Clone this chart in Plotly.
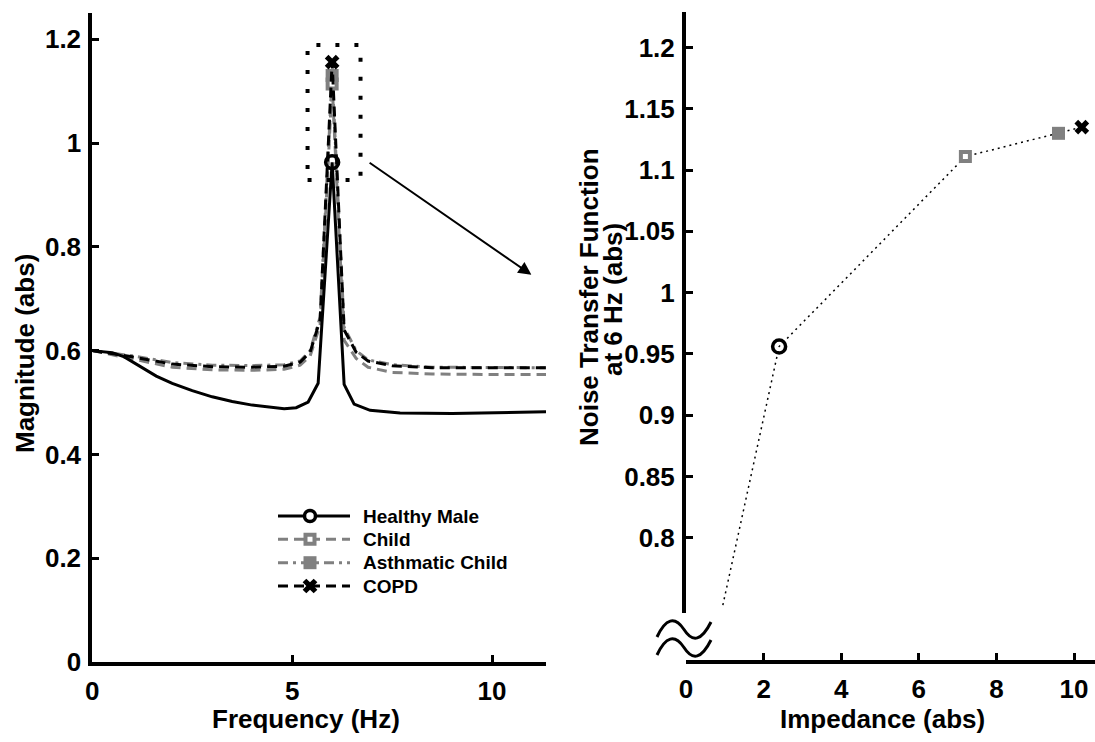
import plotly.graph_objects as go

W, H = 1095, 742

# ---------------- data: left panel (frequency response) ----------------
freq_healthy = [0, 0.5, 0.8, 1.2, 1.6, 2.0, 2.5, 3.0, 3.5, 4.0, 4.5, 4.8, 5.1, 5.4, 5.65, 6.0, 6.3, 6.55, 6.95, 7.7, 9.0, 10.5, 11.35]
mag_healthy = [0.600, 0.596, 0.588, 0.570, 0.551, 0.537, 0.523, 0.511, 0.502, 0.495, 0.490, 0.488, 0.490, 0.501, 0.537, 0.963, 0.535, 0.497, 0.485, 0.480, 0.479, 0.481, 0.482]

freq_other = [0, 1.0, 2.0, 3.0, 4.0, 4.8, 5.2, 5.45, 5.7, 6.0, 6.3, 6.6, 6.9, 7.5, 8.5, 10.0, 11.35]
mag_child = [0.600, 0.584, 0.568, 0.563, 0.562, 0.564, 0.572, 0.590, 0.650, 1.114, 0.620, 0.585, 0.568, 0.558, 0.555, 0.554, 0.554]
mag_asthmatic = [0.600, 0.590, 0.577, 0.572, 0.571, 0.573, 0.580, 0.600, 0.665, 1.130, 0.645, 0.600, 0.582, 0.573, 0.568, 0.567, 0.567]
mag_copd = [0.600, 0.588, 0.574, 0.569, 0.568, 0.570, 0.578, 0.597, 0.660, 1.156, 0.640, 0.597, 0.580, 0.571, 0.567, 0.567, 0.567]

# ---------------- data: right panel (NTF at 6 Hz vs impedance) ----------------
groups = ["Healthy Male", "Child", "Asthmatic Child", "COPD"]
impedance = [2.4, 7.2, 9.6, 10.2]
ntf_6hz = [0.956, 1.111, 1.130, 1.135]
trend_start = (0.95, 0.745)

x_ticks_left = [0, 5, 10]
y_ticks_left = [0, 0.2, 0.4, 0.6, 0.8, 1.0, 1.2]
y_ticklabels_left = ["0", "0.2", "0.4", "0.6", "0.8", "1", "1.2"]
x_ticks_right = [0, 2, 4, 6, 8, 10]
y_ticks_right = [0.8, 0.85, 0.9, 0.95, 1.0, 1.05, 1.1, 1.15, 1.2]
y_ticklabels_right = ["0.8", "0.85", "0.9", "0.95", "1", "1.05", "1.1", "1.15", "1.2"]

zoom_box_freq = [5.385, 6.71]
zoom_box_mag = [0.929, 1.189]
arrow_from = (6.9, 0.964)
arrow_to = (10.985, 0.746)

GRAY = "#808080"
FONT = "Liberation Sans"

# styles per group (order of `groups`)
line_styles = [
    dict(color="black", width=3),
    dict(color=GRAY, width=3, dash="10px,6px"),
    dict(color=GRAY, width=3, dash="10px,5px,3px,5px"),
    dict(color="black", width=3, dash="10px,6px"),
]
marker_styles = [
    dict(symbol="circle-open", color="black", size=13, line=dict(color="black", width=3.5)),
    dict(symbol="square", color="white", size=9, line=dict(color=GRAY, width=4)),
    dict(symbol="square", color=GRAY, size=13, line=dict(width=0)),
    dict(symbol="x", color="black", size=13, line=dict(width=0)),
]
legend_marker_styles = [
    dict(symbol="circle", color="white", size=11, line=dict(color="black", width=3.5)),
    marker_styles[1], marker_styles[2], marker_styles[3],
]

# legend layout (pixel positions of the hand-placed legend block)
LEG_LINE_X = (278, 350)
LEG_TEXT_X = 361
LEG_ROWS_Y = [516, 539.3, 562.7, 586]


def peak_only(values, ms):
    m = max(values)
    sizes = [ms["size"] if v == m else 0 for v in values]
    lw = ms["line"].get("width", 0)
    widths = [lw if v == m else 0 for v in values]
    return dict(symbol=ms["symbol"], color=ms["color"], size=sizes, opacity=1,
                line=dict(color=ms["line"].get("color", ms["color"]), width=widths))


fig = go.Figure()

left_series = [
    (freq_healthy, mag_healthy),
    (freq_other, mag_child),
    (freq_other, mag_asthmatic),
    (freq_other, mag_copd),
]
draw_order = [2, 1, 3, 0]  # asthmatic, child, copd, healthy on top
for i in draw_order:
    fx, fy = left_series[i]
    fig.add_trace(go.Scatter(
        x=fx, y=fy, mode="lines+markers", name=groups[i], showlegend=False,
        line=line_styles[i], marker=peak_only(fy, marker_styles[i]),
        xaxis="x", yaxis="y"))

# right panel: dotted trend line
fig.add_trace(go.Scatter(
    x=[trend_start[0]] + impedance, y=[trend_start[1]] + ntf_6hz,
    mode="lines", showlegend=False,
    line=dict(color="black", width=1.5, dash="2px,4px"),
    xaxis="x2", yaxis="y2"))

for g, xv, yv, ms in zip(groups, impedance, ntf_6hz, marker_styles):
    fig.add_trace(go.Scatter(x=[xv], y=[yv], mode="markers", name=g, showlegend=False,
                             marker=dict(ms, opacity=1), xaxis="x2", yaxis="y2",
                             cliponaxis=False))

# legend glyphs on a pixel overlay axis
for i, g in enumerate(groups):
    ry = LEG_ROWS_Y[i]
    mid = (LEG_LINE_X[0] + LEG_LINE_X[1]) / 2 - 4
    ms = legend_marker_styles[i]
    lw = ms["line"].get("width", 0)
    fig.add_trace(go.Scatter(
        x=[LEG_LINE_X[0], mid, LEG_LINE_X[1]], y=[ry, ry, ry], mode="lines+markers",
        showlegend=False, hoverinfo="skip", line=line_styles[i],
        marker=dict(symbol=ms["symbol"], color=ms["color"], size=[0, ms["size"], 0],
                    opacity=1,
                    line=dict(color=ms["line"].get("color", ms["color"]), width=[0, lw, 0])),
        xaxis="x3", yaxis="y3", cliponaxis=False))

axis_common = dict(
    showline=True, linewidth=4, linecolor="black", ticks="inside", ticklen=7,
    tickwidth=3, tickcolor="black", showgrid=False, zeroline=False,
    tickfont=dict(family=FONT, size=26, color="black", weight="bold"),
)

fig.update_layout(
    width=W, height=H,
    margin=dict(l=0, r=0, t=0, b=0, autoexpand=False),
    paper_bgcolor="white", plot_bgcolor="rgba(0,0,0,0)",
    showlegend=False,
    xaxis=dict(domain=[92.3 / W, 546 / W], range=[0, 11.35], anchor="y",
               tickvals=x_ticks_left, ticklabelstandoff=3, **axis_common),
    yaxis=dict(domain=[1 - 662 / H, 1 - 13.3 / H], range=[0, 1.25], anchor="x",
               tickvals=y_ticks_left, ticktext=y_ticklabels_left, ticklabelstandoff=2,
               **axis_common),
    xaxis2=dict(domain=[686 / W, 1.0], range=[0, 10.54], anchor="free",
                position=1 - 661.7 / H, tickvals=x_ticks_right, ticklabelstandoff=3,
                **axis_common),
    yaxis2=dict(domain=[1 - 612.7 / H, 1 - 12 / H], range=[0.7388, 1.229], anchor="x2",
                tickvals=y_ticks_right, ticktext=y_ticklabels_right, ticklabelstandoff=2,
                **axis_common),
    xaxis3=dict(domain=[0, 1], range=[0, W], visible=False, anchor="y3", fixedrange=True),
    yaxis3=dict(domain=[0, 1], range=[H, 0], visible=False, anchor="x3", fixedrange=True),
)

title_font = dict(family=FONT, size=26, color="black", weight="bold")
legend_font = dict(family=FONT, size=19, color="black", weight="bold")
annotations = [
    dict(text="Frequency (Hz)", x=306 / W, y=1 - 719 / H),
    dict(text="Magnitude (abs)", x=25 / W, y=1 - 354 / H, textangle=-90),
    dict(text="Impedance (abs)", x=882 / W, y=1 - 719 / H),
    dict(text="Noise Transfer Function", x=589 / W, y=1 - 297 / H, textangle=-90),
    dict(text="at 6 Hz (abs)", x=613 / W, y=1 - 300 / H, textangle=-90),
]
for a in annotations:
    a.update(xref="paper", yref="paper", showarrow=False, xanchor="center",
             yanchor="middle", font=title_font)
for i, g in enumerate(groups):
    annotations.append(dict(text=g, x=LEG_TEXT_X / W, y=1 - LEG_ROWS_Y[i] / H,
                            xref="paper", yref="paper", showarrow=False,
                            xanchor="left", yanchor="middle", font=legend_font))
annotations.append(dict(text="", x=arrow_to[0], y=arrow_to[1], ax=arrow_from[0],
                        ay=arrow_from[1], xref="x", yref="y", axref="x", ayref="y",
                        showarrow=True, arrowhead=2, arrowsize=1.3, arrowwidth=2,
                        arrowcolor="black"))
fig.update_layout(annotations=annotations)


def pp(px, py):
    return f"{px / W:.5f},{1 - py / H:.5f}"


def tilde(dy):
    return ("M" + pp(657, 637 + dy) + " Q" + pp(670, 609 + dy) + " " + pp(684, 629.5 + dy)
            + " Q" + pp(697, 650 + dy) + " " + pp(711, 622 + dy))


shapes = [
    dict(type="rect", xref="x", yref="y", x0=zoom_box_freq[0], x1=zoom_box_freq[1],
         y0=zoom_box_mag[0], y1=zoom_box_mag[1],
         line=dict(color="black", width=4, dash="4px,15px")),
    dict(type="path", xref="paper", yref="paper", path=tilde(0),
         line=dict(color="black", width=3)),
    dict(type="path", xref="paper", yref="paper", path=tilde(18),
         line=dict(color="black", width=3)),
]
fig.update_layout(shapes=shapes)

fig.write_html("out.html")
